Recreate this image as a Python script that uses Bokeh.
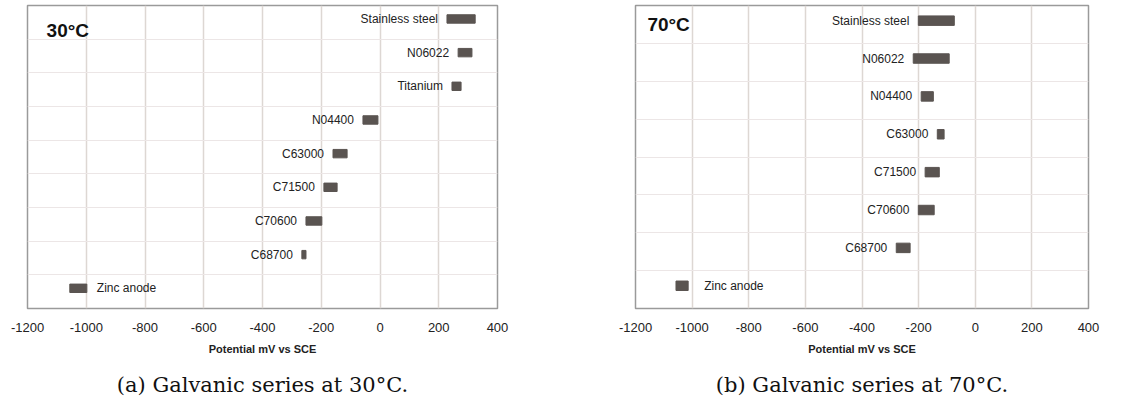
from bokeh.plotting import figure
from bokeh.models import Range1d, FixedTicker, Label, Title, ColumnDataSource
from bokeh.layouts import row
from bokeh.embed import file_html
from bokeh.resources import INLINE
from bokeh.core.properties import value

# ---- data (mV vs SCE) ----
alloys_30 = ["Stainless steel", "N06022", "Titanium", "N04400", "C63000",
             "C71500", "C70600", "C68700", "Zinc anode"]
low_30 = [228, 266, 245, -58, -160, -191, -252, -266, -1056]
high_30 = [324, 313, 276, -7, -112, -146, -198, -252, -998]

alloys_70 = ["Stainless steel", "N06022", "N04400", "C63000", "C71500",
             "C70600", "C68700", "Zinc anode"]
low_70 = [-201, -219, -191, -134, -177, -201, -279, -1057]
high_70 = [-74, -92, -148, -110, -127, -145, -230, -1014]

x_ticks = [-1200, -1000, -800, -600, -400, -200, 0, 200, 400]

BAR = "#5a5451"
FONT = "Liberation Sans"


def panel(names, lo, hi, temp, caption, width, bl, br, bt, title_xy, zinc_gap):
    n = len(names)
    ys = [n - i - 0.4 for i in range(n)]
    p = figure(width=width, height=409, output_backend="svg", toolbar_location=None,
               x_range=Range1d(-1200, 400), y_range=Range1d(0, n),
               min_border_left=bl, min_border_right=br, min_border_top=bt,
               min_border_bottom=101)
    p.outline_line_color = "#9a9a9a"
    p.outline_line_width = 1.5
    p.background_fill_color = "white"
    p.border_fill_color = "white"
    p.yaxis.visible = False
    p.ygrid.ticker = FixedTicker(ticks=list(range(1, n)))
    p.ygrid.grid_line_color = "#ece6e6"
    p.ygrid.grid_line_width = 1
    p.xgrid.ticker = FixedTicker(ticks=x_ticks)
    p.xgrid.grid_line_color = "#ddd7d3"
    p.xgrid.grid_line_width = 1.5
    ax = p.xaxis[0]
    ax.ticker = FixedTicker(ticks=x_ticks)
    ax.major_label_overrides = {t: str(t) for t in x_ticks}
    ax.axis_line_color = None
    ax.major_tick_line_color = None
    ax.minor_tick_line_color = None
    ax.major_label_standoff = 8
    ax.major_label_text_font = FONT
    ax.major_label_text_font_size = "13px"
    ax.major_label_text_color = "#222222"
    ax.axis_label = "Potential mV vs SCE"
    ax.axis_label_text_font = FONT
    ax.axis_label_text_font_style = "bold"
    ax.axis_label_text_font_size = "11px"
    ax.axis_label_text_color = "#222222"
    ax.axis_label_standoff = 8

    src = ColumnDataSource(dict(y=ys, lo=lo, hi=hi, name=names))
    p.hbar(y="y", left="lo", right="hi", height=0.25, source=src,
           fill_color=BAR, line_color=BAR, line_width=1)

    main = ColumnDataSource(dict(y=ys[:-1], x=lo[:-1], name=names[:-1]))
    p.text(x="x", y="y", text="name", source=main, text_align="right",
           text_baseline="middle", x_offset=-9,
           text_font=value(FONT), text_font_size="12px", text_color="#222222")
    zinc = ColumnDataSource(dict(y=ys[-1:], x=hi[-1:], name=names[-1:]))
    p.text(x="x", y="y", text="name", source=zinc, text_align="left",
           text_baseline="middle", x_offset=zinc_gap,
           text_font=value(FONT), text_font_size="12px", text_color="#222222")

    p.add_layout(Label(x=title_xy[0], y=title_xy[1], text=temp,
                       text_font=FONT, text_font_style="bold",
                       text_font_size="19px", text_baseline="middle",
                       text_color="#111111"))

    cap = Title(text=caption, align="center", text_font="DejaVu Serif",
                text_font_style="normal", text_font_size="21px",
                text_color="#111111", standoff=26)
    p.add_layout(cap, "below")
    return p


p1 = panel(alloys_30, low_30, high_30, "30°C", "(a) Galvanic series at 30°C.",
           572, 27, 75, 3, (-1135, 8.27), 10)
p2 = panel(alloys_70, low_70, high_70, "70°C", "(b) Galvanic series at 70°C.",
           572, 63, 56, 5, (-1158, 7.5), 16)

layout = row(p1, p2)
open("out.html", "w").write(file_html(layout, INLINE))
